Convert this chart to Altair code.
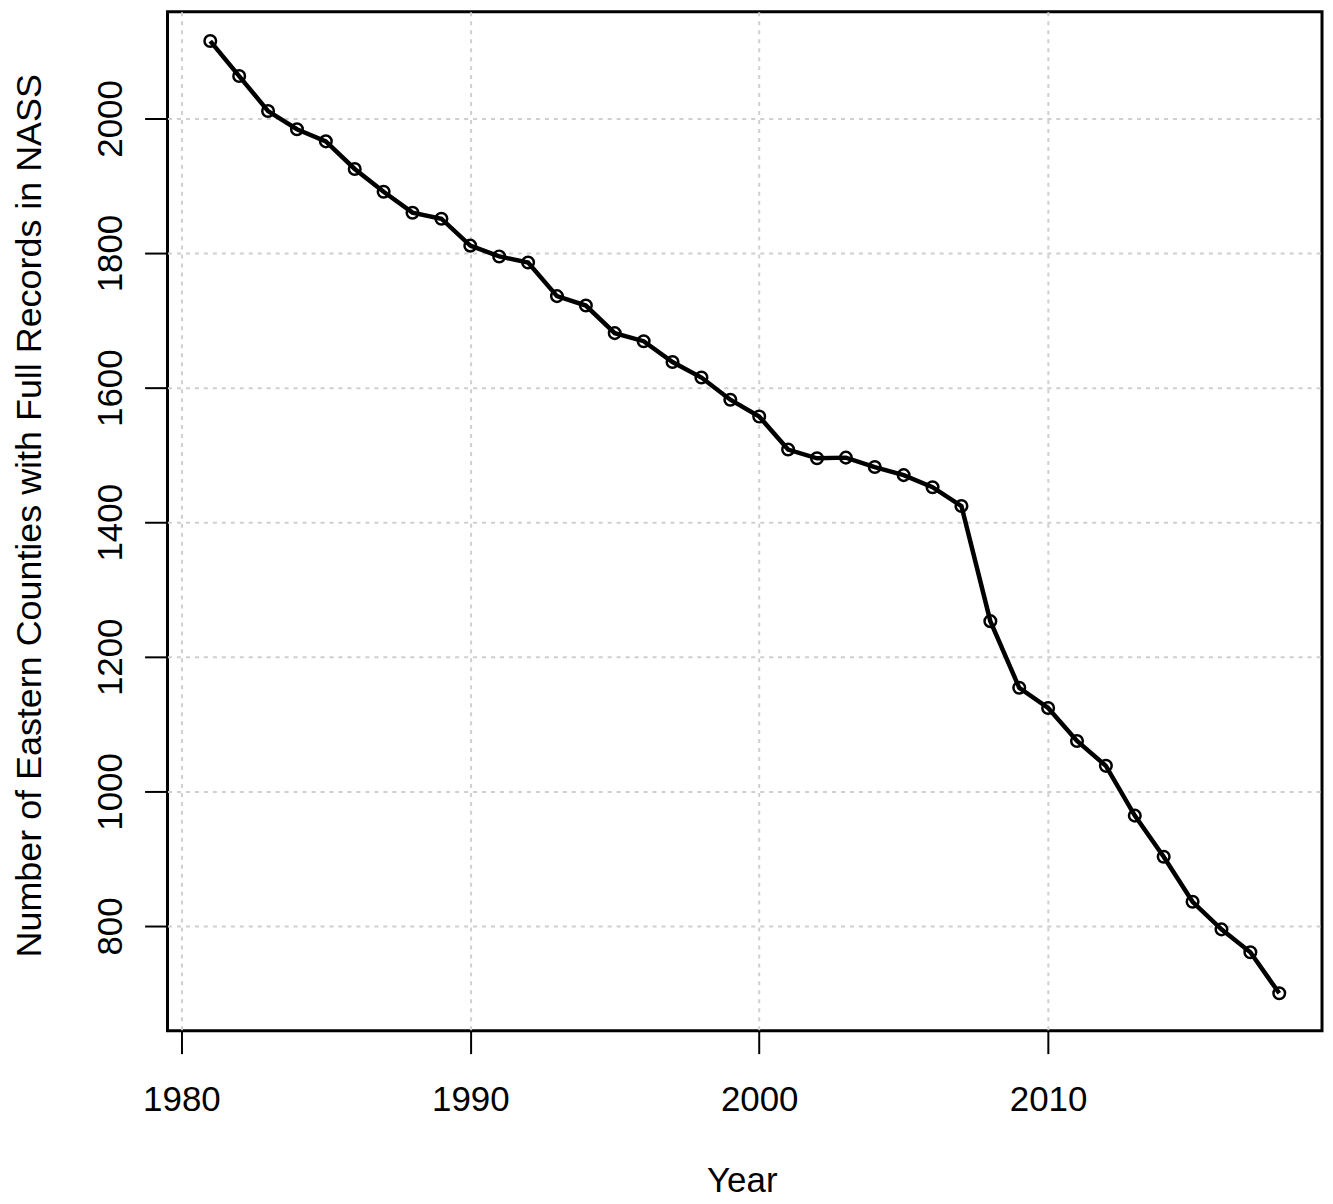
import altair as alt
import pandas as pd

years = list(range(1981, 2019))
counties = [2115, 2063, 2011, 1984, 1966, 1925, 1891, 1860, 1851, 1811,
            1795, 1786, 1736, 1722, 1681, 1669, 1638, 1615, 1582, 1557,
            1508, 1495, 1496, 1482, 1470, 1452, 1424, 1253, 1154, 1124,
            1075, 1038, 964, 903, 836, 795, 761, 700]
x_ticks = [1980, 1990, 2000, 2010]
y_ticks = [800, 1000, 1200, 1400, 1600, 1800, 2000]

df = pd.DataFrame({"Year": years, "Counties": counties})

FONT = "Liberation Sans"
GRID = "#cfcfcf"

x_enc = alt.X(
    "Year:Q",
    scale=alt.Scale(domain=[1979.52, 2019.48], nice=False, zero=False),
    axis=alt.Axis(
        values=x_ticks, format="d", title="Year",
        domain=False, ticks=True, tickSize=23, tickWidth=2, tickColor="black",
        labelFont=FONT, labelFontSize=35, labelColor="black",
        labelBaseline="alphabetic", labelPadding=57, labelAlign="center",
        grid=True, gridColor=GRID, gridDash=[4, 5], gridWidth=2,
        titleFont=FONT, titleFontSize=35, titleFontWeight="normal", titleColor="black",
        titleX=576, titleY=161, titleAlign="center", titleBaseline="alphabetic",
    ),
)
y_enc = alt.Y(
    "Counties:Q",
    scale=alt.Scale(domain=[644.4, 2158.5], nice=False, zero=False),
    axis=alt.Axis(
        values=y_ticks, format="d",
        title="Number of Eastern Counties with Full Records in NASS",
        domain=False, ticks=True, tickSize=23, tickWidth=2, tickColor="black",
        labelFont=FONT, labelFontSize=35, labelColor="black",
        labelAngle=270, labelAlign="center", labelBaseline="alphabetic", labelPadding=23,
        grid=True, gridColor=GRID, gridDash=[4, 5], gridWidth=2,
        titleFont=FONT, titleFontSize=36, titleFontWeight="normal", titleColor="black",
        titleAngle=270, titleX=-127, titleY=505, titleAlign="center", titleBaseline="alphabetic",
    ),
)

base = alt.Chart(df).encode(x=x_enc, y=y_enc)
line = base.mark_line(color="black", strokeWidth=4.5)
pts = base.mark_point(filled=False, color="black", size=135, strokeWidth=2.5, opacity=1)

chart = (
    alt.layer(line, pts)
    .properties(
        width=1158, height=1022,
        background="white",
        autosize=alt.AutoSizeParams(type="none"),
        padding={"left": 160, "top": 2, "right": 3, "bottom": 170},
    )
    .configure_view(stroke="black", strokeWidth=3)
)

chart.save("out.html", embed_options={"renderer": "svg", "actions": False})
